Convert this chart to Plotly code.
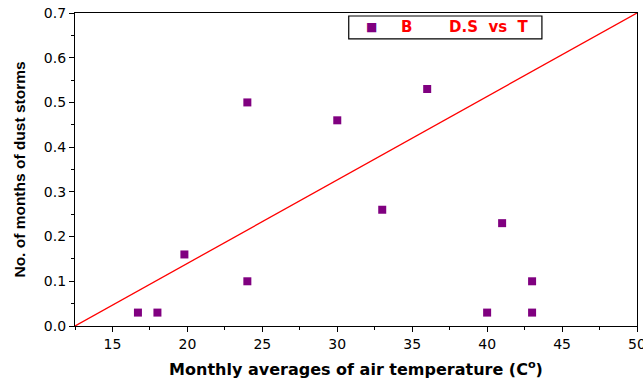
import plotly.graph_objects as go

temp = [16.7, 18.0, 19.8, 24.0, 24.0, 30.0, 33.0, 36.0, 40.0, 41.0, 43.0, 43.0]
storms = [0.03, 0.03, 0.16, 0.50, 0.10, 0.46, 0.26, 0.53, 0.03, 0.23, 0.10, 0.03]
fit_x = [12.5, 50.0]
fit_y = [0.0, 0.7]
legend_label = "B"
legend_title = "D.S\u00a0\u00a0vs\u00a0\u00a0T"

fig = go.Figure()
fig.add_trace(go.Scatter(x=temp, y=storms, mode="markers",
                         marker=dict(symbol="square", size=8, color="#800080"),
                         name=legend_label, showlegend=False))
fig.add_trace(go.Scatter(x=fit_x, y=fit_y, mode="lines",
                         line=dict(color="#ff0000", width=1.3), showlegend=False))

tickfont = dict(family="DejaVu Sans", size=14, color="black")
axis_common = dict(showgrid=False, zeroline=False, showline=True, linecolor="black",
                   linewidth=1.2, mirror=True, ticks="outside", ticklen=5, tickwidth=1,
                   tickcolor="black", tickfont=tickfont, ticklabeloverflow="allow",
                   automargin=False)
fig.update_xaxes(range=[12.5, 50], tickmode="linear", tick0=0, dtick=5,
                 minor=dict(ticks="outside", ticklen=3, dtick=2.5, tick0=0, tickcolor="black"),
                 title=dict(text="<b>Monthly averages of air temperature (C<sup>o</sup>)</b>",
                            font=dict(family="DejaVu Sans", size=16, color="black"),
                            standoff=12),
                 **axis_common)
fig.update_yaxes(range=[0, 0.7], tickmode="linear", tick0=0, dtick=0.1, tickformat=".1f",
                 minor=dict(ticks="outside", ticklen=3, dtick=0.05, tick0=0, tickcolor="black"),
                 title=dict(text="<b>No. of months of dust storms</b>",
                            font=dict(family="Liberation Sans Narrow, Liberation Sans", size=15.5, color="black"),
                            standoff=14),
                 **axis_common)

# legend box drawn manually (compact, like the reference)
def px(xpix):
    return (xpix - 75.5) / 561.5

def py(ypix):
    return (326.5 - ypix) / 313.5

fig.add_shape(type="rect", xref="paper", yref="paper", x0=px(349), x1=px(542), y0=py(39), y1=py(16),
              line=dict(color="black", width=1.2), fillcolor="white")
legend_font = dict(family="DejaVu Sans", size=15, color="#ff0000", weight="bold")
fig.add_annotation(xref="paper", yref="paper", x=px(372), y=py(27.5), text="\u25a0", showarrow=False,
                   font=dict(family="DejaVu Sans", size=12, color="#800080"), xanchor="center", yanchor="middle")
fig.add_annotation(xref="paper", yref="paper", x=px(406.5), y=py(27.5), text=legend_label, showarrow=False,
                   font=legend_font, xanchor="center", yanchor="middle")
fig.add_annotation(xref="paper", yref="paper", x=px(489.5), y=py(27.5), text=legend_title, showarrow=False,
                   font=legend_font, xanchor="center", yanchor="middle")

fig.update_layout(width=643, height=383, margin=dict(l=75, r=6, t=13, b=57),
                  plot_bgcolor="white", paper_bgcolor="white", showlegend=False)
fig.write_html("out.html")
